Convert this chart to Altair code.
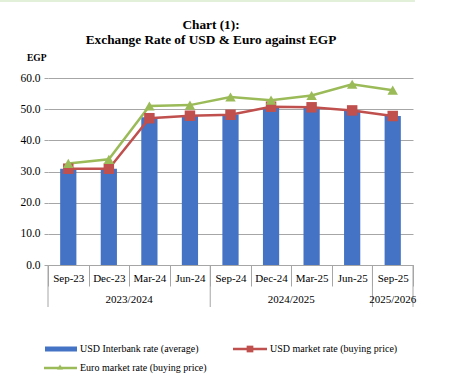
import altair as alt
import pandas as pd

# ---------------- data ----------------
categories = ["Sep-23", "Dec-23", "Mar-24", "Jun-24", "Sep-24", "Dec-24", "Mar-25", "Jun-25", "Sep-25"]
interbank = [30.9, 30.9, 47.4, 47.9, 48.3, 50.7, 50.6, 49.6, 47.8]
usd_market = [30.9, 30.9, 47.1, 47.9, 48.2, 50.8, 50.6, 49.6, 47.8]
euro_market = [32.6, 33.9, 51.0, 51.3, 53.9, 52.9, 54.4, 58.0, 56.1]
fiscal_years = ["2023/2024", "2024/2025", "2025/2026"]
year_first = ["Sep-23", "Sep-24", "Sep-25"]
year_last = ["Jun-24", "Jun-25", "Sep-25"]
series_names = ["USD Interbank rate (average)", "USD market rate (buying price)", "Euro market rate (buying price)"]
series_colors = ["#4472C4", "#C0504D", "#9BBB59"]
y_ticks = [0, 10, 20, 30, 40, 50, 60]
title_lines = ["Chart (1):", "Exchange Rate of USD & Euro against EGP"]
unit_label = "EGP"

FONT = "Liberation Serif"
GRID = "#a6a6a6"
W, H = 365, 187

df = pd.DataFrame({
    "category": categories * 3,
    "series": [series_names[0]] * 9 + [series_names[1]] * 9 + [series_names[2]] * 9,
    "value": interbank + usd_market + euro_market,
})

xenc = alt.X(
    "category:N", sort=categories, title=None,
    scale=alt.Scale(domain=categories, paddingInner=0, paddingOuter=0),
    axis=alt.Axis(
        labelAngle=0, tickBand="extent", tickSize=21, tickColor=GRID, domainColor=GRID,
        labelFont=FONT, labelFontSize=11, labelColor="black", labelPadding=-14,
        labelBaseline="top",
    ),
)
yenc = alt.Y(
    "value:Q", title=None,
    scale=alt.Scale(domain=[0, 60], nice=False, zero=True),
    axis=alt.Axis(
        values=y_ticks, format=".1f", grid=True, gridColor=GRID, domain=False,
        ticks=True, tickSize=4, tickColor=GRID, labelFont=FONT, labelFontSize=11.5,
        labelColor="black", labelPadding=4, labelOverlap=False, tickCount=7,
    ),
)

base = alt.Chart(df)
bars = base.transform_filter(alt.datum.series == series_names[0]).mark_bar(
    color=series_colors[0], width=alt.RelativeBandSize(0.4)
).encode(x=xenc, y=yenc)

red_line = base.transform_filter(alt.datum.series == series_names[1]).mark_line(
    color=series_colors[1], strokeWidth=2.5
).encode(x=xenc, y=yenc)
red_pts = base.transform_filter(alt.datum.series == series_names[1]).mark_point(
    shape="square", filled=True, opacity=1, size=110, color=series_colors[1]
).encode(x=xenc, y=yenc)

green_line = base.transform_filter(alt.datum.series == series_names[2]).mark_line(
    color=series_colors[2], strokeWidth=2.5
).encode(x=xenc, y=yenc)
green_pts = base.transform_filter(alt.datum.series == series_names[2]).mark_point(
    shape="triangle-up", filled=True, opacity=1, size=110, color=series_colors[2]
).encode(x=xenc, y=yenc)

# ---------- fiscal-year grouping on x axis ----------
idx = {c: i for i, c in enumerate(categories)}
grp = pd.DataFrame({"label": fiscal_years, "first": year_first, "last": year_last})
grp["center2"] = [idx[f] + idx[l] + 1 for f, l in zip(year_first, year_last)]  # 2*center position
grp["anchor"] = [categories[int(c // 2)] for c in grp["center2"]]
grp["half"] = [c % 2 == 1 for c in grp["center2"]]

xs = dict(sort=categories)
sep_start = alt.Chart(grp).mark_rule(color=GRID, strokeWidth=1).encode(
    x=alt.X("first:N", bandPosition=0, **xs), y=alt.value(H), y2=alt.value(H + 42)
)
sep_end = alt.Chart(grp.tail(1)).mark_rule(color=GRID, strokeWidth=1).encode(
    x=alt.X("last:N", bandPosition=1, **xs), y=alt.value(H), y2=alt.value(H + 42)
)
grp_text_a = alt.Chart(grp[~grp["half"]]).mark_text(
    font=FONT, fontSize=11, color="black", baseline="middle"
).encode(x=alt.X("anchor:N", bandPosition=0, **xs), y=alt.value(H + 35), text="label:N")
grp_text_b = alt.Chart(grp[grp["half"]]).mark_text(
    font=FONT, fontSize=11, color="black", baseline="middle"
).encode(x=alt.X("anchor:N", bandPosition=0.5, **xs), y=alt.value(H + 35), text="label:N")

# ---------- titles ----------
ttl = pd.DataFrame({"t": title_lines, "row": [0, 1]})
title1 = alt.Chart(ttl.head(1)).mark_text(
    font=FONT, fontSize=13.3, fontWeight="bold", color="black", baseline="middle"
).encode(x=alt.value(163), y=alt.value(-53), text="t:N")
title2 = alt.Chart(ttl.tail(1)).mark_text(
    font=FONT, fontSize=13.3, fontWeight="bold", color="black", baseline="middle"
).encode(x=alt.value(163), y=alt.value(-38), text="t:N")
unit = alt.Chart(pd.DataFrame({"t": [unit_label]})).mark_text(
    font=FONT, fontSize=9.5, fontWeight="bold", color="black", align="left", baseline="middle"
).encode(x=alt.value(-21), y=alt.value(-20), text="t:N")

top_border = alt.Chart(pd.DataFrame({"a": [0]})).mark_rule(color="#e2efd9", strokeWidth=2).encode(
    x=alt.value(-48), x2=alt.value(367), y=alt.value(-77)
)

# ---------- legend ----------
leg = pd.DataFrame({"name": series_names})
L1, L2 = 271, 290
leg_bar = alt.Chart(pd.DataFrame({"a": [0]})).mark_rule(color=series_colors[0], strokeWidth=5).encode(
    x=alt.value(-3), x2=alt.value(29), y=alt.value(L1)
)
leg_red = alt.Chart(pd.DataFrame({"a": [0]})).mark_rule(color=series_colors[1], strokeWidth=2.5).encode(
    x=alt.value(185), x2=alt.value(219), y=alt.value(L1)
)
leg_red_pt = alt.Chart(pd.DataFrame({"a": [0]})).mark_point(
    shape="square", filled=True, opacity=1, size=45, color=series_colors[1]
).encode(x=alt.value(202), y=alt.value(L1))
leg_green = alt.Chart(pd.DataFrame({"a": [0]})).mark_rule(color=series_colors[2], strokeWidth=2.5).encode(
    x=alt.value(-4), x2=alt.value(29), y=alt.value(L2)
)
leg_green_pt = alt.Chart(pd.DataFrame({"a": [0]})).mark_point(
    shape="triangle-up", filled=True, opacity=1, size=35, color=series_colors[2]
).encode(x=alt.value(12), y=alt.value(L2 - 1))
leg_t1 = alt.Chart(leg.iloc[[0]]).mark_text(
    font=FONT, fontSize=10, color="black", align="left", baseline="middle"
).encode(x=alt.value(32), y=alt.value(L1), text="name:N")
leg_t2 = alt.Chart(leg.iloc[[1]]).mark_text(
    font=FONT, fontSize=10, color="black", align="left", baseline="middle"
).encode(x=alt.value(222), y=alt.value(L1), text="name:N")
leg_t3 = alt.Chart(leg.iloc[[2]]).mark_text(
    font=FONT, fontSize=10, color="black", align="left", baseline="middle"
).encode(x=alt.value(32), y=alt.value(L2), text="name:N")

chart = alt.layer(
    bars, red_line, green_line, red_pts, green_pts,
    sep_start, sep_end, grp_text_a, grp_text_b,
    title1, title2, unit, top_border,
    leg_bar, leg_red, leg_red_pt, leg_green, leg_green_pt, leg_t1, leg_t2, leg_t3,
).properties(
    width=W, height=H,
    autosize=alt.AutoSizeParams(type="none"),
    padding={"left": 48, "top": 78, "right": 60, "bottom": 117},
    background="white",
).configure_view(stroke=None)

chart.save("out.html", embed_options={"renderer": "svg", "actions": False})
